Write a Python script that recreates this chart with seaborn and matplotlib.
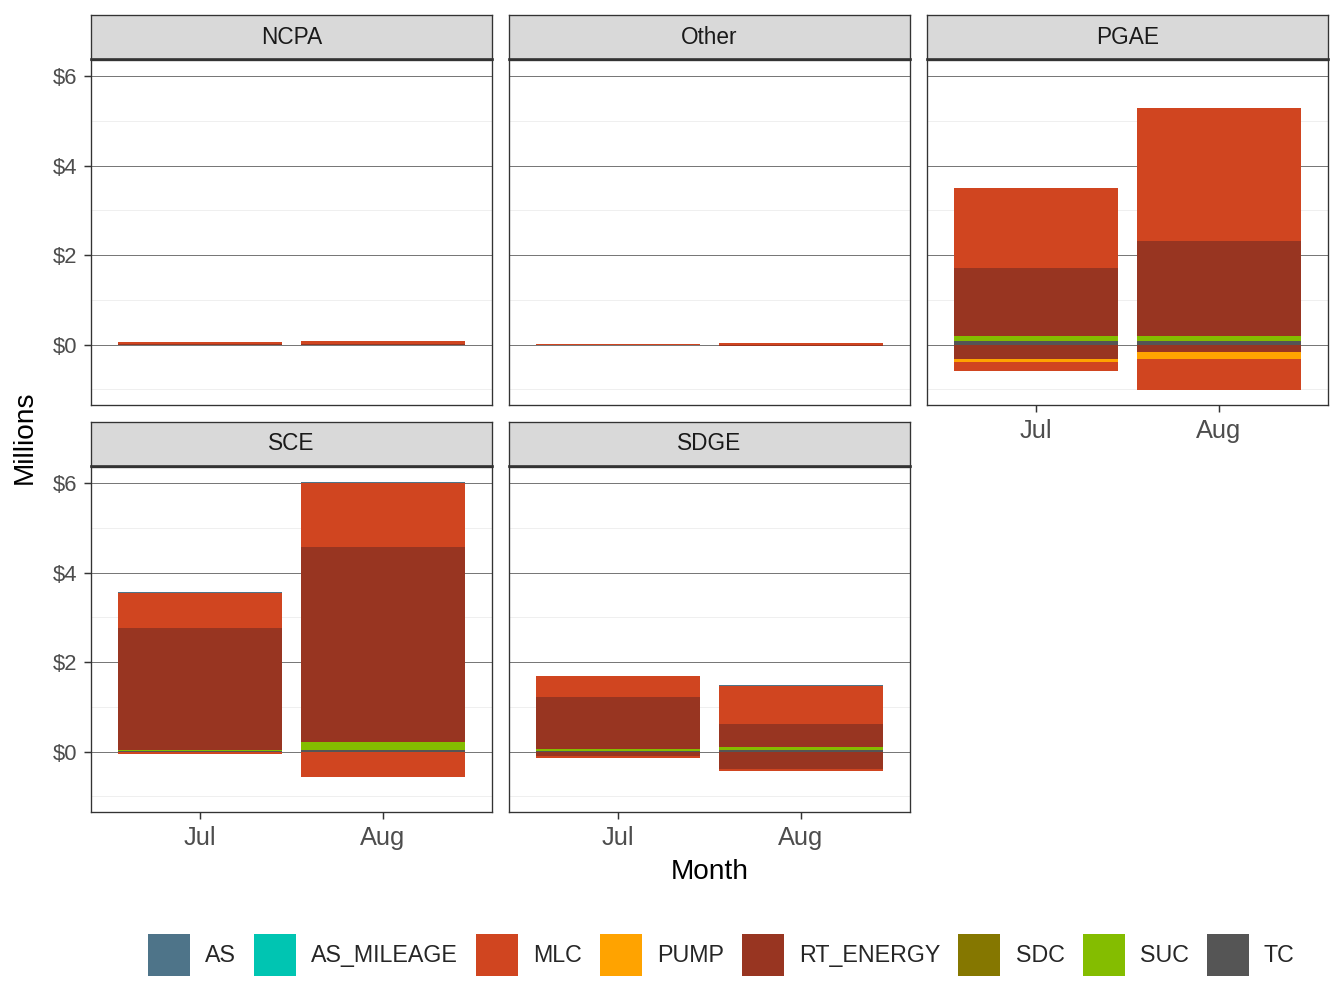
import numpy as np
import pandas as pd
import matplotlib
matplotlib.use("Agg")
import matplotlib.pyplot as plt
from matplotlib.patches import Patch
from matplotlib.ticker import FixedLocator, FuncFormatter
import seaborn as sns

sns.set_theme(style="white")
plt.rcParams["font.family"] = ["Liberation Sans", "DejaVu Sans"]

# ---------------- data (millions) ----------------
regions = ["NCPA", "Other", "PGAE", "SCE", "SDGE"]
months = ["Jul", "Aug"]
charge_types = ["AS", "AS_MILEAGE", "MLC", "PUMP", "RT_ENERGY", "SDC", "SUC", "TC"]
palette = ["#4E7489", "#00C5B2", "#D04520", "#FFA300", "#983521", "#857700", "#84BD00", "#555555"]

# order of values: NCPA Jul, NCPA Aug, Other Jul, Other Aug, PGAE Jul, PGAE Aug,
#                  SCE Jul, SCE Aug, SDGE Jul, SDGE Aug
as_pos         = [0, 0, 0, 0, 0.005, 0.005, 0.02, 0.02, 0.005, 0.005]
as_mileage_pos = [0, 0, 0, 0, 0, 0, 0, 0, 0, 0]
mlc_pos        = [0.025, 0.06, 0.005, 0.04, 1.78, 2.97, 0.78, 1.42, 0.47, 0.87]
mlc_neg        = [0, 0, 0, 0, -0.20, -0.69, -0.05, -0.57, -0.05, -0.045]
pump_neg       = [0, 0, 0, 0, -0.067, -0.156, 0, 0, 0, 0]
rt_energy_pos  = [0.02, 0.01, 0, 0, 1.52, 2.12, 2.74, 4.37, 1.16, 0.51]
rt_energy_neg  = [0, 0, 0, -0.03, -0.33, -0.17, 0, 0, -0.10, -0.39]
sdc_pos        = [0, 0, 0, 0, 0, 0, 0, 0, 0, 0]
suc_pos        = [0.002, 0.002, 0, 0, 0.13, 0.13, 0.02, 0.18, 0.045, 0.067]
tc_pos         = [0, 0, 0, 0, 0.07, 0.07, 0.01, 0.03, 0.005, 0.03]

series = {
    "AS": [as_pos],
    "AS_MILEAGE": [as_mileage_pos],
    "MLC": [mlc_pos, mlc_neg],
    "PUMP": [pump_neg],
    "RT_ENERGY": [rt_energy_pos, rt_energy_neg],
    "SDC": [sdc_pos],
    "SUC": [suc_pos],
    "TC": [tc_pos],
}

rows = []
keys = [(r, m) for r in regions for m in months]
for ct, lists in series.items():
    for vals in lists:
        for (r, m), v in zip(keys, vals):
            rows.append(dict(region=r, month=m, type=ct, value=v))
df = pd.DataFrame(rows)

colors = dict(zip(charge_types, palette))

# ---------------- layout ----------------
W, H = 1344, 1008
fig = plt.figure(figsize=(W / 96, H / 96), dpi=96)

col_x = [91, 509, 927]
pw = 401
ph = 345
row_top = [60, 467]
strip_h = 44

positions = {
    "NCPA": (0, 0), "Other": (0, 1), "PGAE": (0, 2),
    "SCE": (1, 0), "SDGE": (1, 1),
}

ymin, ymax = -1.35, 6.36
border_col = "#333333"

def fx(px):
    return px / W

def fy(py):
    return 1 - py / H

for reg in regions:
    r, c = positions[reg]
    x0 = col_x[c]
    y0 = row_top[r]
    ax = fig.add_axes([fx(x0), fy(y0 + ph), pw / W, ph / H])
    sub = df[df.region == reg]
    xpos = {m: i for i, m in enumerate(months)}
    for m in months:
        sm = sub[sub.month == m]
        pos_base = 0.0
        neg_base = 0.0
        # ggplot-style stacking: last factor level nearest zero
        for ct in reversed(charge_types):
            vals = sm[sm.type == ct]["value"].values
            for v in vals:
                if v > 0:
                    ax.bar(xpos[m], v, bottom=pos_base, width=0.9,
                           color=colors[ct], linewidth=0)
                    pos_base += v
                elif v < 0:
                    ax.bar(xpos[m], v, bottom=neg_base, width=0.9,
                           color=colors[ct], linewidth=0)
                    neg_base += v
    ax.set_xlim(-0.6, 1.6)
    ax.set_ylim(ymin, ymax)
    ax.set_facecolor("white")
    ax.yaxis.set_major_locator(FixedLocator([0, 2, 4, 6]))
    ax.yaxis.set_minor_locator(FixedLocator([-1, 1, 3, 5]))
    ax.grid(False)
    ax.grid(True, axis="y", which="major", color="#6e6e6e", linewidth=0.7)
    ax.grid(True, axis="y", which="minor", color="#ebebeb", linewidth=0.6)
    ax.set_axisbelow(True)
    ax.set_xticks(range(len(months)))
    ax.set_xticklabels(months)
    ax.yaxis.set_major_formatter(FuncFormatter(lambda v, p: r"\$%d" % v))
    for sp in ax.spines.values():
        sp.set_color(border_col)
        sp.set_linewidth(1.0)
        sp.set_visible(True)
    ax.tick_params(axis="both", which="major", length=5.3, width=1.1, color=border_col,
                   labelcolor="#4d4d4d", direction="out")
    ax.tick_params(axis="y", which="major", labelsize=16.5, pad=5)
    ax.tick_params(axis="x", which="major", labelsize=19, pad=5)
    ax.tick_params(axis="y", which="minor", length=0)
    show_x = (r == 1) or reg == "PGAE"
    show_y = (c == 0)
    if not show_x:
        ax.tick_params(axis="x", bottom=False, labelbottom=False)
    else:
        ax.tick_params(axis="x", bottom=True)
    if not show_y:
        ax.tick_params(axis="y", left=False, labelleft=False)
    else:
        ax.tick_params(axis="y", left=True)
    ax.set_xlabel("")
    ax.set_ylabel("")

    # facet strip
    sax = fig.add_axes([fx(x0), fy(y0 - 1), pw / W, strip_h / H])
    sax.set_facecolor("#d9d9d9")
    sax.set_xticks([])
    sax.set_yticks([])
    for sp in sax.spines.values():
        sp.set_color(border_col)
        sp.set_linewidth(1.0)
    sax.spines["bottom"].set_linewidth(2.0)
    sax.text(0.5, 0.5, reg, ha="center", va="center", fontsize=17,
             color="#1a1a1a", transform=sax.transAxes)

fig.text(fx(25), fy(437), "Millions", rotation=90, ha="center", va="center",
         fontsize=21, color="black")
fig.text(fx(710), fy(872), "Month", ha="center", va="center",
         fontsize=21, color="black")

handles = [Patch(facecolor=colors[ct], edgecolor="none", label=ct) for ct in charge_types]
fig.legend(handles=handles, loc="center", bbox_to_anchor=(fx(721), fy(955)),
           ncol=len(charge_types), frameon=False, fontsize=17.4,
           handlelength=1.81, handleheight=2.41, handletextpad=0.65,
           columnspacing=0.78, borderaxespad=0, borderpad=0)

fig.savefig("out.png", dpi=96, facecolor="white")
